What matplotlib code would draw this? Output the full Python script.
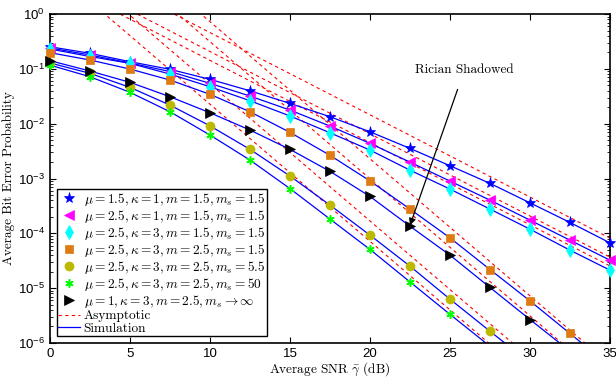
import numpy as np
import matplotlib.pyplot as plt
from matplotlib.lines import Line2D

plt.rcParams['font.family'] = 'Liberation Sans'
plt.rcParams['mathtext.fontset'] = 'cm'

# SNR grid (dB)
snr = np.arange(0, 35.1, 2.5)

# simulated BER
ber_s1 = [0.253, 0.192, 0.135, 0.098, 0.0643, 0.0398, 0.0234, 0.0134, 0.00711,
          0.00354, 0.00171, 8.15e-4, 3.6e-4, 1.58e-4, 6.7e-5]
ber_s2 = [0.240, 0.179, 0.128, 0.0893, 0.0544, 0.0319, 0.0177, 0.00904, 0.00437,
          0.00199, 8.97e-4, 4.03e-4, 1.74e-4, 7.5e-5, 3.24e-5]
ber_s3 = [0.230, 0.168, 0.126, 0.0804, 0.0471, 0.0262, 0.0138, 0.00682, 0.0033,
          0.00142, 6.41e-4, 2.77e-4, 1.19e-4, 4.93e-5, 2.13e-5]
ber_s4 = [0.197, 0.145, 0.0992, 0.0625, 0.0343, 0.0165, 0.00694, 0.00265, 9.04e-4,
          2.77e-4, 8.28e-5, 2.19e-5, 5.86e-6, 1.49e-6, 3.8e-7]
ber_s5 = [0.128, 0.0828, 0.0459, 0.0218, 0.00912, 0.0034, 0.00111, 3.27e-4, 9.27e-5,
          2.52e-5, 6.3e-6, 1.64e-6, 4.3e-7]
ber_s6 = [0.117, 0.0718, 0.0373, 0.0165, 0.0062, 0.00217, 6.54e-4, 1.82e-4, 5.08e-5,
          1.30e-5, 3.33e-6, 8.7e-7]
ber_s7 = [0.141, 0.0912, 0.0567, 0.0310, 0.0158, 0.00764, 0.0034, 0.00135, 4.71e-4,
          1.35e-4, 4.0e-5, 1.03e-5, 2.68e-6, 7.1e-7]

# asymptotic curves: values at 0 dB and 35 dB
asym_x = [0, 35]
asym_s1 = [14.5, 8.17e-5]
asym_s2 = [6.55, 3.68e-5]
asym_s3 = [4.52, 2.54e-5]
asym_s4 = [229, 4.07e-7]
asym_s5 = [16.8, 2.99e-8]
asym_s6 = [7.16, 1.27e-8]
asym_s7 = [98.9, 1.76e-7]

labels = [r'$\mu=1.5,\kappa=1,m=1.5,m_s=1.5$',
          r'$\mu=2.5,\kappa=1,m=1.5,m_s=1.5$',
          r'$\mu=2.5,\kappa=3,m=1.5,m_s=1.5$',
          r'$\mu=2.5,\kappa=3,m=2.5,m_s=1.5$',
          r'$\mu=2.5,\kappa=3,m=2.5,m_s=5.5$',
          r'$\mu=2.5,\kappa=3,m=2.5,m_s=50$',
          r'$\mu=1,\kappa=3,m=2.5,m_s\rightarrow\infty$']

sims = [ber_s1, ber_s2, ber_s3, ber_s4, ber_s5, ber_s6, ber_s7]
asyms = [asym_s1, asym_s2, asym_s3, asym_s4, asym_s5, asym_s6, asym_s7]
styles = [dict(marker='*', color='#0000ff', ms=8),
          dict(marker='<', color='#ff00ff', ms=7),
          dict(marker='d', color='#00ffff', ms=7),
          dict(marker='s', color='#de7b12', ms=5.5),
          dict(marker='o', color='#bdb800', ms=6.5),
          dict(marker=(6, 2, 0), color='#00ff00', ms=6, mew=1.1),
          dict(marker='>', color='black', ms=7)]

fig = plt.figure(figsize=(6.16, 3.79), dpi=100)
ax = fig.add_axes([0.0812, 0.095, 0.909, 0.868])

for a in asyms:
    ax.semilogy(asym_x, a, color='#ff0000', ls=(0, (3, 3)), lw=0.8)

for s in sims:
    ax.semilogy(snr[:len(s)], s, color='#0000ff', lw=0.9)

handles = []
for s, st, lab in zip(sims, styles, labels):
    s = np.array(s)
    keep = s >= 1e-6
    h, = ax.semilogy(snr[:len(s)][keep], s[keep], ls='none', marker=st['marker'],
                     color=st['color'], ms=st['ms'], mew=st.get('mew', 0.5),
                     label=lab, clip_on=False, zorder=3)
    handles.append(h)

handles.append(Line2D([], [], color='#ff0000', ls=(0, (3, 3)), lw=0.8, label='Asymptotic'))
handles.append(Line2D([], [], color='#0000ff', lw=0.9, label='Simulation'))

ax.annotate('Rician Shadowed', xy=(22.5, 1.4e-4), xytext=(25.9, 0.095),
            ha='center', va='center', fontsize=9.5, family='cmr10',
            arrowprops=dict(arrowstyle='-|>', color='black', lw=0.9,
                            shrinkA=8, shrinkB=0, mutation_scale=10))

ax.set_xlim(0, 35)
ax.set_ylim(1e-6, 1)
ax.set_xticks(np.arange(0, 36, 5))
ax.tick_params(which='both', direction='in', top=True, right=True, labelsize=9.5)
ax.tick_params(which='major', length=4)
ax.tick_params(which='minor', length=2)
for sp in ax.spines.values():
    sp.set_linewidth(1.2)

ax.set_xlabel(r'Average SNR $\bar{\gamma}$ (dB)', family='cmr10', fontsize=9.5, labelpad=0)
ax.set_ylabel('Average Bit Error Probability', family='cmr10', fontsize=9.5, labelpad=2)

leg = ax.legend(handles=handles, loc='lower left', frameon=True,
                fancybox=False, edgecolor='black', framealpha=1,
                labelspacing=0.0, handletextpad=0.3,
                borderpad=0.12, handlelength=1.6, borderaxespad=0.5,
                prop={'family': 'cmr10', 'size': 9.6})
leg.get_frame().set_linewidth(1.0)

plt.savefig('out.png', dpi=100)
